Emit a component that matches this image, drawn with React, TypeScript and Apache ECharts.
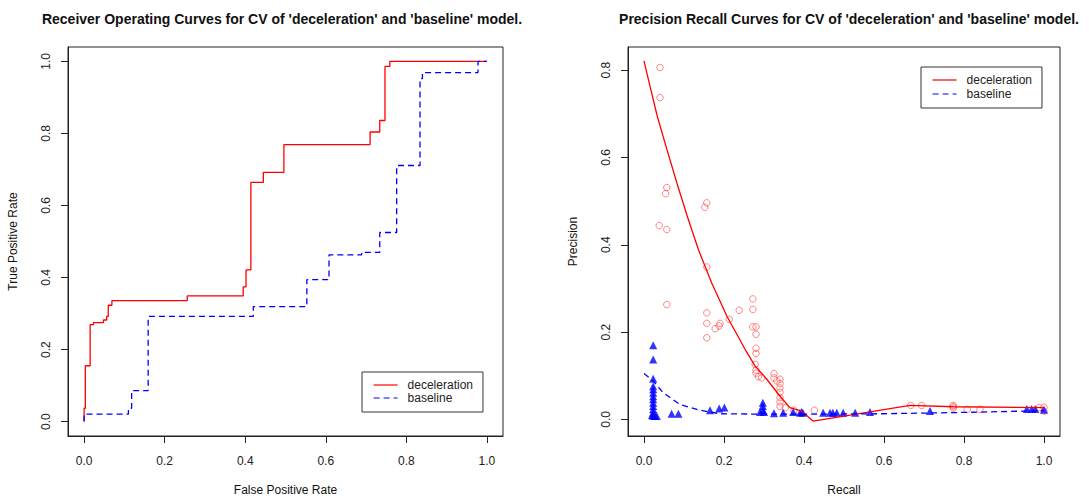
import React, { useEffect, useRef } from "react";
import * as echarts from "echarts";

// ROC curves: [FPR, TPR] vertices (steps)
const rocDeceleration: [number, number][] = [
  [0, 0], [0, 0.037], [0.003, 0.155], [0.015, 0.269], [0.023, 0.275], [0.048, 0.282],
  [0.056, 0.292], [0.06, 0.323], [0.069, 0.336], [0.256, 0.349], [0.395, 0.374],
  [0.402, 0.421], [0.414, 0.664], [0.445, 0.692], [0.496, 0.769], [0.71, 0.804],
  [0.734, 0.836], [0.747, 0.986], [0.759, 1.0], [1.0, 1.0],
];
const rocBaseline: [number, number][] = [
  [0, 0], [0, 0.021], [0.11, 0.037], [0.118, 0.086], [0.159, 0.292], [0.42, 0.319],
  [0.553, 0.394], [0.608, 0.463], [0.689, 0.47], [0.734, 0.525], [0.776, 0.711],
  [0.834, 0.952], [0.84, 0.969], [0.978, 1.0], [1.0, 1.0],
];

// Precision-recall mean curves: [recall, precision]
const prDecelerationCurve: [number, number][] = [
  [0, 0.821], [0.013, 0.771], [0.033, 0.695], [0.057, 0.619], [0.082, 0.542],
  [0.108, 0.466], [0.136, 0.389], [0.169, 0.313], [0.207, 0.237], [0.253, 0.16],
  [0.278, 0.122], [0.307, 0.092], [0.34, 0.053], [0.365, 0.027], [0.394, 0.019],
  [0.423, -0.004], [0.665, 0.032], [0.773, 0.029], [1.0, 0.027],
];
const prBaselineCurve: [number, number][] = [
  [0, 0.105], [0.023, 0.088], [0.048, 0.061], [0.09, 0.034], [0.14, 0.021],
  [0.19, 0.013], [0.3, 0.012], [0.4, 0.012], [0.6, 0.013], [0.8, 0.016], [1.0, 0.02],
];

// Precision-recall per-fold points
const prDecelerationPoints: [number, number][] = [
  [0.04, 0.806], [0.04, 0.737], [0.057, 0.531], [0.054, 0.517], [0.038, 0.444],
  [0.057, 0.435], [0.057, 0.263], [0.157, 0.496], [0.152, 0.486], [0.157, 0.349],
  [0.157, 0.244], [0.157, 0.22], [0.157, 0.187], [0.178, 0.208], [0.188, 0.214],
  [0.19, 0.22], [0.213, 0.229], [0.238, 0.25], [0.272, 0.276], [0.272, 0.252],
  [0.272, 0.212], [0.28, 0.212], [0.28, 0.195], [0.28, 0.163], [0.28, 0.151],
  [0.278, 0.126], [0.28, 0.113], [0.28, 0.106], [0.286, 0.098], [0.294, 0.095],
  [0.325, 0.105], [0.325, 0.095], [0.332, 0.088], [0.34, 0.092], [0.34, 0.082],
  [0.34, 0.072], [0.34, 0.062], [0.34, 0.05], [0.34, 0.04], [0.34, 0.03],
  [0.353, 0.027], [0.375, 0.021], [0.426, 0.021], [0.667, 0.032], [0.694, 0.032],
  [0.773, 0.032], [0.773, 0.029], [0.773, 0.026], [0.808, 0.023], [0.84, 0.023],
  [0.988, 0.027], [1.0, 0.028], [1.0, 0.019],
];
const prBaselinePoints: [number, number][] = [
  [0.023, 0.17], [0.023, 0.137], [0.023, 0.093], [0.023, 0.076], [0.023, 0.069],
  [0.023, 0.061], [0.023, 0.053], [0.023, 0.046], [0.023, 0.038], [0.023, 0.031],
  [0.023, 0.023], [0.023, 0.015], [0.023, 0.008], [0.02, 0.01], [0.028, 0.008],
  [0.032, 0.008], [0.069, 0.013], [0.086, 0.013], [0.165, 0.021], [0.188, 0.025],
  [0.201, 0.027], [0.297, 0.038], [0.297, 0.031], [0.297, 0.021], [0.29, 0.017],
  [0.3, 0.017], [0.325, 0.014], [0.348, 0.015], [0.373, 0.017], [0.394, 0.017],
  [0.39, 0.015], [0.397, 0.015], [0.448, 0.015], [0.465, 0.015], [0.472, 0.015],
  [0.482, 0.015], [0.498, 0.015], [0.528, 0.015], [0.565, 0.017], [0.715, 0.019],
  [0.957, 0.024], [0.969, 0.024], [0.978, 0.024], [1.0, 0.022],
];

const rocTicks = [0, 0.2, 0.4, 0.6, 0.8, 1.0];
const precisionTicks = [0, 0.2, 0.4, 0.6, 0.8];

const titles = [
  "Receiver Operating Curves for CV of 'deceleration' and 'baseline' model.",
  "Precision Recall Curves for CV of 'deceleration' and 'baseline' model.",
];
const legendNames = ["deceleration", "baseline"];

const FONT = "'Liberation Sans', Arial, Helvetica, sans-serif";
const RED = "#ff0000";
const BLUE = "#0000ff";

function valueAxis(gridIndex: number, min: number, max: number, ticks: number[], name: string, isY: boolean) {
  return {
    type: "value",
    gridIndex,
    min,
    max,
    name,
    nameLocation: "middle",
    nameGap: isY ? 49 : 48,
    nameRotate: isY ? 90 : 0,
    nameTextStyle: { fontFamily: FONT, fontSize: 12, color: "#111" },
    splitLine: { show: false },
    axisLine: { show: true, onZero: false, lineStyle: { color: "#222", width: 1 } },
    axisTick: {
      show: true,
      customValues: ticks,
      length: 7,
      inside: false,
      lineStyle: { color: "#222", width: 1 },
    },
    axisLabel: {
      customValues: ticks,
      rotate: isY ? 90 : 0,
      margin: isY ? 16 : 19,
      fontFamily: FONT,
      fontSize: 12,
      color: "#222",
      formatter: (v: number) => v.toFixed(1),
    },
  };
}

export default function App() {
  const ref = useRef<HTMLDivElement>(null);
  useEffect(() => {
    if (!ref.current) return;
    const chart = echarts.init(ref.current, null, { renderer: "svg" });
    const legendBase = {
      data: legendNames,
      orient: "vertical",
      itemWidth: 24,
      itemHeight: 10,
      backgroundColor: "#fff",
      borderColor: "#333",
      borderWidth: 1,
      borderRadius: 0,
      itemStyle: { opacity: 0 },
      lineStyle: { width: 1.2 },
      textStyle: { fontFamily: FONT, fontSize: 12, color: "#222", padding: [0, 0, 0, 5] },
      selectedMode: false,
    };
    chart.setOption({
      animation: false,
      backgroundColor: "#ffffff",
      title: [
        {
          text: titles[0],
          left: 277,
          top: 7,
          textAlign: "center",
          textStyle: { fontFamily: FONT, fontSize: 14, fontWeight: "bold", color: "#111" },
        },
        {
          text: titles[1],
          left: 844,
          top: 7,
          textAlign: "center",
          textStyle: { fontFamily: FONT, fontSize: 14, fontWeight: "bold", color: "#111" },
        },
      ],
      legend: [
        { ...legendBase, left: 362, top: 372, padding: [7, 10, 8, 11], itemGap: 1 },
        { ...legendBase, left: 921, top: 67, padding: [7, 10, 8, 11], itemGap: 2 },
      ],
      grid: [
        { left: 68, top: 47, width: 435, height: 389, show: true, borderColor: "#222", borderWidth: 1, containLabel: false },
        { left: 628, top: 47, width: 432, height: 390, show: true, borderColor: "#222", borderWidth: 1, containLabel: false },
      ],
      xAxis: [
        valueAxis(0, -0.04, 1.04, rocTicks, "False Positive Rate", false),
        valueAxis(1, -0.04, 1.04, rocTicks, "Recall", false),
      ],
      yAxis: [
        valueAxis(0, -0.04, 1.04, rocTicks, "True Positive Rate", true),
        valueAxis(1, -0.038, 0.853, precisionTicks, "Precision", true),
      ],
      series: [
        {
          name: "deceleration",
          type: "line",
          xAxisIndex: 0,
          yAxisIndex: 0,
          data: rocDeceleration,
          step: "end",
          symbol: "none",
          lineStyle: { color: RED, width: 1.3 },
          itemStyle: { color: RED },
        },
        {
          name: "baseline",
          type: "line",
          xAxisIndex: 0,
          yAxisIndex: 0,
          data: rocBaseline,
          step: "end",
          symbol: "none",
          lineStyle: { color: BLUE, width: 1.3, type: [6, 4] },
          itemStyle: { color: BLUE },
        },
        {
          name: "deceleration folds",
          type: "scatter",
          xAxisIndex: 1,
          yAxisIndex: 1,
          data: prDecelerationPoints,
          symbol: "circle",
          symbolSize: 6.5,
          itemStyle: { color: "rgba(255,0,0,0)", borderColor: "rgba(255,40,40,0.7)", borderWidth: 1 },
        },
        {
          name: "baseline folds",
          type: "scatter",
          xAxisIndex: 1,
          yAxisIndex: 1,
          data: prBaselinePoints,
          symbol: "triangle",
          symbolSize: 8,
          itemStyle: { color: BLUE },
        },
        {
          name: "deceleration",
          type: "line",
          xAxisIndex: 1,
          yAxisIndex: 1,
          data: prDecelerationCurve,
          symbol: "none",
          lineStyle: { color: RED, width: 1.3 },
          itemStyle: { color: RED },
        },
        {
          name: "baseline",
          type: "line",
          xAxisIndex: 1,
          yAxisIndex: 1,
          data: prBaselineCurve,
          symbol: "none",
          lineStyle: { color: BLUE, width: 1.3, type: [6, 4] },
          itemStyle: { color: BLUE },
        },
      ],
    });
    return () => chart.dispose();
  }, []);
  return (
    <div
      ref={ref}
      style={{ position: "absolute", left: 0, top: 0, width: 1089, height: 501 }}
    />
  );
}
